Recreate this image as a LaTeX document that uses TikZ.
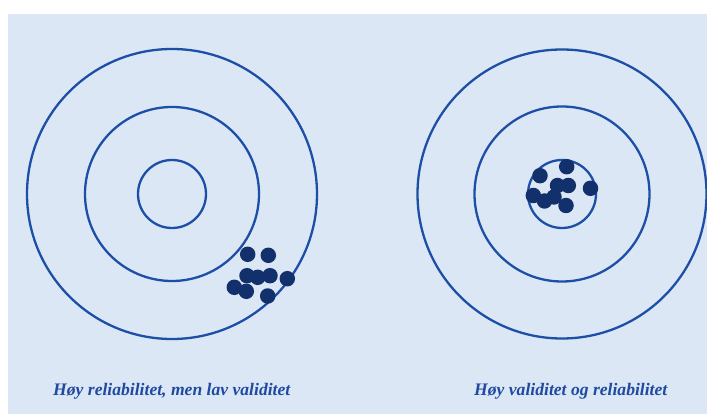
\documentclass[tikz,border=0pt]{standalone}
\usepackage{fontspec}
\setmainfont{Liberation Serif}
\definecolor{bg}{HTML}{DCE7F6}
\definecolor{ring}{HTML}{1E4FA6}
\definecolor{dot}{HTML}{12306B}
\definecolor{lbl}{HTML}{1F4AA0}
\begin{document}
\begin{tikzpicture}[x=1pt,y=-1pt,
  ringstyle/.style={draw=ring,line width=2.3pt},
  hit/.style={circle,fill=dot,inner sep=0pt,minimum size=15.5pt},
  caption/.style={text=lbl,font=\fontsize{17.6}{20}\selectfont\bfseries\itshape,inner sep=0pt,anchor=base west}]
\useasboundingbox (0,0) rectangle (707,414);
\fill[white] (0,0) rectangle (707,414);
\fill[bg] (7.5,14) rectangle (707,414);
% left target
\coordinate (lc) at (172,194);
\draw[ringstyle] (lc) circle[radius=145];
\draw[ringstyle] (lc) circle[radius=87];
\draw[ringstyle] (lc) circle[radius=34];
\foreach \n/\x/\y in {1/247.7/254.3, 2/268.3/255.3, 3/247/275.7, 4/257.7/277.3, 5/270/275.7, 6/287.3/278.7, 7/234.3/287.3, 8/246.3/291.3, 9/267.7/296}
  \node[hit] (l\n) at (\x,\y) {};
% right target
\coordinate (rc) at (562,194);
\draw[ringstyle] (rc) circle[radius=144.5];
\draw[ringstyle] (rc) circle[radius=87.5];
\draw[ringstyle] (rc) circle[radius=34];
\foreach \n/\x/\y in {1/566.7/166.7, 2/540/175.7, 3/557.5/185.5, 4/568.3/185.5, 5/590.5/188.3, 6/533.3/195.5, 7/544.5/201, 8/554/197, 9/566/205.5}
  \node[hit] (r\n) at (\x,\y) {};
% captions
\node[caption] (capl) at (53,395) {Høy reliabilitet, men lav validitet};
\node[caption] (capr) at (474,395) {Høy validitet og reliabilitet};
\end{tikzpicture}
\end{document}
